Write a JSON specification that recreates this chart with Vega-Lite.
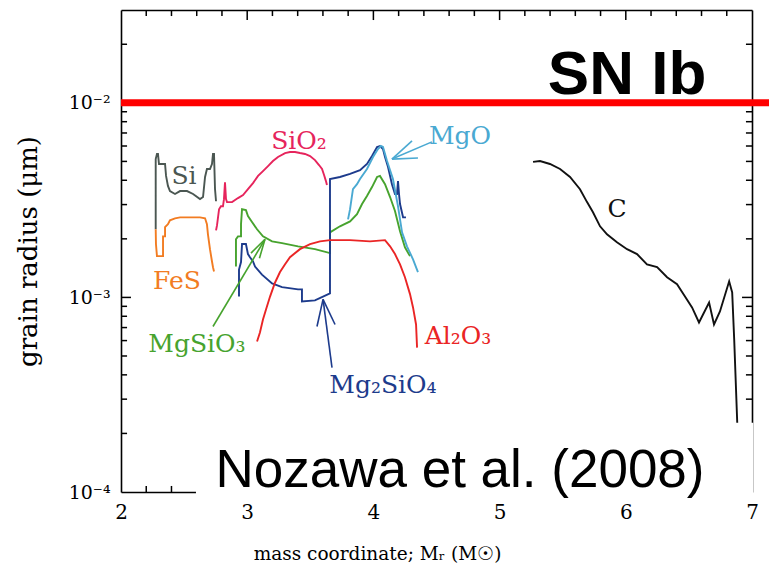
{
  "$schema": "https://vega.github.io/schema/vega-lite/v6.json",
  "autosize": "none",
  "width": 631,
  "height": 482,
  "padding": {"left": 121, "top": 10, "right": 17, "bottom": 85},
  "background": "white",
  "config": {
    "view": {"stroke": null},
    "axis": {
      "grid": false,
      "domainColor": "black",
      "domainWidth": 1.6,
      "labelFont": "DejaVu Serif",
      "labelFontSize": 20,
      "labelColor": "black",
      "titleFont": "DejaVu Serif",
      "titleColor": "black",
      "titleFontWeight": "normal"
    }
  },
  "datasets": {
    "curves": [
      {"s": "Si", "m": 2.275, "r": 2.24e-3, "o": 0},
      {"s": "Si", "m": 2.275, "r": 5.14e-3, "o": 1},
      {"s": "Si", "m": 2.285, "r": 5.46e-3, "o": 2},
      {"s": "Si", "m": 2.293, "r": 5.46e-3, "o": 3},
      {"s": "Si", "m": 2.301, "r": 4.85e-3, "o": 4},
      {"s": "Si", "m": 2.349, "r": 4.85e-3, "o": 5},
      {"s": "Si", "m": 2.357, "r": 4.21e-3, "o": 6},
      {"s": "Si", "m": 2.372, "r": 3.74e-3, "o": 7},
      {"s": "Si", "m": 2.388, "r": 3.52e-3, "o": 8},
      {"s": "Si", "m": 2.428, "r": 3.40e-3, "o": 9},
      {"s": "Si", "m": 2.468, "r": 3.52e-3, "o": 10},
      {"s": "Si", "m": 2.523, "r": 3.52e-3, "o": 11},
      {"s": "Si", "m": 2.571, "r": 3.40e-3, "o": 12},
      {"s": "Si", "m": 2.626, "r": 3.20e-3, "o": 13},
      {"s": "Si", "m": 2.650, "r": 3.28e-3, "o": 14},
      {"s": "Si", "m": 2.666, "r": 4.16e-3, "o": 15},
      {"s": "Si", "m": 2.681, "r": 4.57e-3, "o": 16},
      {"s": "Si", "m": 2.705, "r": 4.57e-3, "o": 17},
      {"s": "Si", "m": 2.721, "r": 4.85e-3, "o": 18},
      {"s": "Si", "m": 2.729, "r": 5.46e-3, "o": 19},
      {"s": "Si", "m": 2.737, "r": 5.46e-3, "o": 20},
      {"s": "Si", "m": 2.745, "r": 3.60e-3, "o": 21},
      {"s": "Si", "m": 2.753, "r": 3.12e-3, "o": 22},

      {"s": "FeS", "m": 2.275, "r": 2.24e-3, "o": 0},
      {"s": "FeS", "m": 2.277, "r": 1.88e-3, "o": 1},
      {"s": "FeS", "m": 2.285, "r": 1.63e-3, "o": 2},
      {"s": "FeS", "m": 2.333, "r": 1.63e-3, "o": 3},
      {"s": "FeS", "m": 2.333, "r": 2.06e-3, "o": 4},
      {"s": "FeS", "m": 2.349, "r": 2.06e-3, "o": 5},
      {"s": "FeS", "m": 2.349, "r": 2.30e-3, "o": 6},
      {"s": "FeS", "m": 2.372, "r": 2.38e-3, "o": 7},
      {"s": "FeS", "m": 2.388, "r": 2.49e-3, "o": 8},
      {"s": "FeS", "m": 2.428, "r": 2.55e-3, "o": 9},
      {"s": "FeS", "m": 2.468, "r": 2.58e-3, "o": 10},
      {"s": "FeS", "m": 2.547, "r": 2.58e-3, "o": 11},
      {"s": "FeS", "m": 2.626, "r": 2.58e-3, "o": 12},
      {"s": "FeS", "m": 2.666, "r": 2.55e-3, "o": 13},
      {"s": "FeS", "m": 2.681, "r": 2.38e-3, "o": 14},
      {"s": "FeS", "m": 2.689, "r": 2.11e-3, "o": 15},
      {"s": "FeS", "m": 2.705, "r": 1.77e-3, "o": 16},
      {"s": "FeS", "m": 2.721, "r": 1.53e-3, "o": 17},
      {"s": "FeS", "m": 2.729, "r": 1.43e-3, "o": 18},
      {"s": "FeS", "m": 2.737, "r": 1.36e-3, "o": 19},

      {"s": "SiO2", "m": 2.753, "r": 2.21e-3, "o": 0},
      {"s": "SiO2", "m": 2.761, "r": 2.35e-3, "o": 1},
      {"s": "SiO2", "m": 2.777, "r": 2.84e-3, "o": 2},
      {"s": "SiO2", "m": 2.792, "r": 2.94e-3, "o": 3},
      {"s": "SiO2", "m": 2.808, "r": 2.94e-3, "o": 4},
      {"s": "SiO2", "m": 2.816, "r": 3.20e-3, "o": 5},
      {"s": "SiO2", "m": 2.824, "r": 3.91e-3, "o": 6},
      {"s": "SiO2", "m": 2.832, "r": 3.20e-3, "o": 7},
      {"s": "SiO2", "m": 2.840, "r": 3.09e-3, "o": 8},
      {"s": "SiO2", "m": 2.880, "r": 3.09e-3, "o": 9},
      {"s": "SiO2", "m": 2.927, "r": 3.24e-3, "o": 10},
      {"s": "SiO2", "m": 2.967, "r": 3.36e-3, "o": 11},
      {"s": "SiO2", "m": 3.006, "r": 3.60e-3, "o": 12},
      {"s": "SiO2", "m": 3.046, "r": 3.87e-3, "o": 13},
      {"s": "SiO2", "m": 3.086, "r": 4.21e-3, "o": 14},
      {"s": "SiO2", "m": 3.125, "r": 4.46e-3, "o": 15},
      {"s": "SiO2", "m": 3.165, "r": 4.73e-3, "o": 16},
      {"s": "SiO2", "m": 3.204, "r": 5.02e-3, "o": 17},
      {"s": "SiO2", "m": 3.244, "r": 5.27e-3, "o": 18},
      {"s": "SiO2", "m": 3.300, "r": 5.52e-3, "o": 19},
      {"s": "SiO2", "m": 3.339, "r": 5.59e-3, "o": 20},
      {"s": "SiO2", "m": 3.379, "r": 5.59e-3, "o": 21},
      {"s": "SiO2", "m": 3.418, "r": 5.52e-3, "o": 22},
      {"s": "SiO2", "m": 3.458, "r": 5.46e-3, "o": 23},
      {"s": "SiO2", "m": 3.498, "r": 5.33e-3, "o": 24},
      {"s": "SiO2", "m": 3.537, "r": 5.08e-3, "o": 25},
      {"s": "SiO2", "m": 3.569, "r": 4.79e-3, "o": 26},
      {"s": "SiO2", "m": 3.593, "r": 4.57e-3, "o": 27},
      {"s": "SiO2", "m": 3.609, "r": 4.26e-3, "o": 28},
      {"s": "SiO2", "m": 3.624, "r": 3.96e-3, "o": 29},
      {"s": "SiO2", "m": 3.632, "r": 3.78e-3, "o": 30},

      {"s": "MgSiO3", "m": 2.911, "r": 1.44e-3, "o": 0},
      {"s": "MgSiO3", "m": 2.911, "r": 1.99e-3, "o": 1},
      {"s": "MgSiO3", "m": 2.927, "r": 2.06e-3, "o": 2},
      {"s": "MgSiO3", "m": 2.951, "r": 2.06e-3, "o": 3},
      {"s": "MgSiO3", "m": 2.951, "r": 2.38e-3, "o": 4},
      {"s": "MgSiO3", "m": 2.959, "r": 2.84e-3, "o": 5},
      {"s": "MgSiO3", "m": 2.990, "r": 2.81e-3, "o": 6},
      {"s": "MgSiO3", "m": 3.006, "r": 2.62e-3, "o": 7},
      {"s": "MgSiO3", "m": 3.038, "r": 2.44e-3, "o": 8},
      {"s": "MgSiO3", "m": 3.078, "r": 2.24e-3, "o": 9},
      {"s": "MgSiO3", "m": 3.125, "r": 2.06e-3, "o": 10},
      {"s": "MgSiO3", "m": 3.197, "r": 1.94e-3, "o": 11},
      {"s": "MgSiO3", "m": 3.276, "r": 1.90e-3, "o": 12},
      {"s": "MgSiO3", "m": 3.403, "r": 1.83e-3, "o": 13},
      {"s": "MgSiO3", "m": 3.537, "r": 1.77e-3, "o": 14},
      {"s": "MgSiO3", "m": 3.656, "r": 1.69e-3, "o": 15},
      {"s": "MgSiO3", "m": 3.656, "r": 2.16e-3, "o": 16},
      {"s": "MgSiO3", "m": 3.735, "r": 2.32e-3, "o": 17},
      {"s": "MgSiO3", "m": 3.815, "r": 2.46e-3, "o": 18},
      {"s": "MgSiO3", "m": 3.870, "r": 2.68e-3, "o": 19},
      {"s": "MgSiO3", "m": 3.910, "r": 3.02e-3, "o": 20},
      {"s": "MgSiO3", "m": 3.949, "r": 3.32e-3, "o": 21},
      {"s": "MgSiO3", "m": 3.989, "r": 3.69e-3, "o": 22},
      {"s": "MgSiO3", "m": 4.029, "r": 4.16e-3, "o": 23},
      {"s": "MgSiO3", "m": 4.052, "r": 4.21e-3, "o": 24},
      {"s": "MgSiO3", "m": 4.092, "r": 3.82e-3, "o": 25},
      {"s": "MgSiO3", "m": 4.132, "r": 3.28e-3, "o": 26},
      {"s": "MgSiO3", "m": 4.171, "r": 2.78e-3, "o": 27},
      {"s": "MgSiO3", "m": 4.211, "r": 2.19e-3, "o": 28},
      {"s": "MgSiO3", "m": 4.250, "r": 1.81e-3, "o": 29},
      {"s": "MgSiO3", "m": 4.290, "r": 1.63e-3, "o": 30},

      {"s": "Mg2SiO4", "m": 2.935, "r": 1.01e-3, "o": 0},
      {"s": "Mg2SiO4", "m": 2.935, "r": 1.39e-3, "o": 1},
      {"s": "Mg2SiO4", "m": 2.951, "r": 1.52e-3, "o": 2},
      {"s": "Mg2SiO4", "m": 2.959, "r": 1.88e-3, "o": 3},
      {"s": "Mg2SiO4", "m": 2.990, "r": 1.88e-3, "o": 4},
      {"s": "Mg2SiO4", "m": 3.006, "r": 1.67e-3, "o": 5},
      {"s": "Mg2SiO4", "m": 3.022, "r": 1.61e-3, "o": 6},
      {"s": "Mg2SiO4", "m": 3.046, "r": 1.53e-3, "o": 7},
      {"s": "Mg2SiO4", "m": 3.062, "r": 1.44e-3, "o": 8},
      {"s": "Mg2SiO4", "m": 3.117, "r": 1.31e-3, "o": 9},
      {"s": "Mg2SiO4", "m": 3.197, "r": 1.18e-3, "o": 10},
      {"s": "Mg2SiO4", "m": 3.276, "r": 1.13e-3, "o": 11},
      {"s": "Mg2SiO4", "m": 3.403, "r": 1.10e-3, "o": 12},
      {"s": "Mg2SiO4", "m": 3.434, "r": 1.10e-3, "o": 13},
      {"s": "Mg2SiO4", "m": 3.434, "r": 9.54e-4, "o": 14},
      {"s": "Mg2SiO4", "m": 3.537, "r": 9.65e-4, "o": 15},
      {"s": "Mg2SiO4", "m": 3.656, "r": 1.05e-3, "o": 16},
      {"s": "Mg2SiO4", "m": 3.656, "r": 4.06e-3, "o": 17},
      {"s": "Mg2SiO4", "m": 3.735, "r": 4.16e-3, "o": 18},
      {"s": "Mg2SiO4", "m": 3.815, "r": 4.31e-3, "o": 19},
      {"s": "Mg2SiO4", "m": 3.894, "r": 4.51e-3, "o": 20},
      {"s": "Mg2SiO4", "m": 3.949, "r": 4.85e-3, "o": 21},
      {"s": "Mg2SiO4", "m": 3.989, "r": 5.33e-3, "o": 22},
      {"s": "Mg2SiO4", "m": 4.029, "r": 5.93e-3, "o": 23},
      {"s": "Mg2SiO4", "m": 4.052, "r": 6.00e-3, "o": 24},
      {"s": "Mg2SiO4", "m": 4.076, "r": 5.79e-3, "o": 25},
      {"s": "Mg2SiO4", "m": 4.092, "r": 5.27e-3, "o": 26},
      {"s": "Mg2SiO4", "m": 4.116, "r": 4.68e-3, "o": 27},
      {"s": "Mg2SiO4", "m": 4.147, "r": 3.82e-3, "o": 28},
      {"s": "Mg2SiO4", "m": 4.171, "r": 3.40e-3, "o": 29},
      {"s": "Mg2SiO4", "m": 4.187, "r": 3.40e-3, "o": 30},
      {"s": "Mg2SiO4", "m": 4.195, "r": 3.96e-3, "o": 31},
      {"s": "Mg2SiO4", "m": 4.203, "r": 3.40e-3, "o": 32},
      {"s": "Mg2SiO4", "m": 4.211, "r": 3.02e-3, "o": 33},
      {"s": "Mg2SiO4", "m": 4.235, "r": 2.58e-3, "o": 34},
      {"s": "Mg2SiO4", "m": 4.258, "r": 2.58e-3, "o": 35},

      {"s": "MgO", "m": 3.799, "r": 2.52e-3, "o": 0},
      {"s": "MgO", "m": 3.815, "r": 2.84e-3, "o": 1},
      {"s": "MgO", "m": 3.838, "r": 3.60e-3, "o": 2},
      {"s": "MgO", "m": 3.870, "r": 3.82e-3, "o": 3},
      {"s": "MgO", "m": 3.894, "r": 4.06e-3, "o": 4},
      {"s": "MgO", "m": 3.949, "r": 4.57e-3, "o": 5},
      {"s": "MgO", "m": 3.997, "r": 5.27e-3, "o": 6},
      {"s": "MgO", "m": 4.036, "r": 5.79e-3, "o": 7},
      {"s": "MgO", "m": 4.060, "r": 6.00e-3, "o": 8},
      {"s": "MgO", "m": 4.076, "r": 5.93e-3, "o": 9},
      {"s": "MgO", "m": 4.108, "r": 5.02e-3, "o": 10},
      {"s": "MgO", "m": 4.155, "r": 4.06e-3, "o": 11},
      {"s": "MgO", "m": 4.195, "r": 2.94e-3, "o": 12},
      {"s": "MgO", "m": 4.227, "r": 2.16e-3, "o": 13},
      {"s": "MgO", "m": 4.266, "r": 1.83e-3, "o": 14},
      {"s": "MgO", "m": 4.314, "r": 1.57e-3, "o": 15},
      {"s": "MgO", "m": 4.353, "r": 1.35e-3, "o": 16},

      {"s": "Al2O3", "m": 3.078, "r": 5.93e-4, "o": 0},
      {"s": "Al2O3", "m": 3.101, "r": 6.60e-4, "o": 1},
      {"s": "Al2O3", "m": 3.125, "r": 7.70e-4, "o": 2},
      {"s": "Al2O3", "m": 3.149, "r": 8.67e-4, "o": 3},
      {"s": "Al2O3", "m": 3.181, "r": 1.01e-3, "o": 4},
      {"s": "Al2O3", "m": 3.220, "r": 1.19e-3, "o": 5},
      {"s": "Al2O3", "m": 3.260, "r": 1.35e-3, "o": 6},
      {"s": "Al2O3", "m": 3.300, "r": 1.48e-3, "o": 7},
      {"s": "Al2O3", "m": 3.339, "r": 1.61e-3, "o": 8},
      {"s": "Al2O3", "m": 3.418, "r": 1.77e-3, "o": 9},
      {"s": "Al2O3", "m": 3.498, "r": 1.88e-3, "o": 10},
      {"s": "Al2O3", "m": 3.577, "r": 1.94e-3, "o": 11},
      {"s": "Al2O3", "m": 3.656, "r": 1.97e-3, "o": 12},
      {"s": "Al2O3", "m": 3.815, "r": 1.97e-3, "o": 13},
      {"s": "Al2O3", "m": 3.973, "r": 1.94e-3, "o": 14},
      {"s": "Al2O3", "m": 4.092, "r": 1.97e-3, "o": 15},
      {"s": "Al2O3", "m": 4.132, "r": 1.83e-3, "o": 16},
      {"s": "Al2O3", "m": 4.171, "r": 1.67e-3, "o": 17},
      {"s": "Al2O3", "m": 4.211, "r": 1.48e-3, "o": 18},
      {"s": "Al2O3", "m": 4.250, "r": 1.27e-3, "o": 19},
      {"s": "Al2O3", "m": 4.290, "r": 1.04e-3, "o": 20},
      {"s": "Al2O3", "m": 4.314, "r": 8.88e-4, "o": 21},
      {"s": "Al2O3", "m": 4.338, "r": 7.26e-4, "o": 22},
      {"s": "Al2O3", "m": 4.346, "r": 5.52e-4, "o": 23},

      {"s": "C", "m": 5.265, "r": 4.97e-3, "o": 0},
      {"s": "C", "m": 5.320, "r": 5.02e-3, "o": 1},
      {"s": "C", "m": 5.399, "r": 4.85e-3, "o": 2},
      {"s": "C", "m": 5.479, "r": 4.57e-3, "o": 3},
      {"s": "C", "m": 5.558, "r": 4.16e-3, "o": 4},
      {"s": "C", "m": 5.637, "r": 3.60e-3, "o": 5},
      {"s": "C", "m": 5.693, "r": 3.09e-3, "o": 6},
      {"s": "C", "m": 5.740, "r": 2.74e-3, "o": 7},
      {"s": "C", "m": 5.796, "r": 2.32e-3, "o": 8},
      {"s": "C", "m": 5.851, "r": 2.11e-3, "o": 9},
      {"s": "C", "m": 5.930, "r": 1.92e-3, "o": 10},
      {"s": "C", "m": 6.010, "r": 1.77e-3, "o": 11},
      {"s": "C", "m": 6.089, "r": 1.67e-3, "o": 12},
      {"s": "C", "m": 6.168, "r": 1.48e-3, "o": 13},
      {"s": "C", "m": 6.248, "r": 1.43e-3, "o": 14},
      {"s": "C", "m": 6.327, "r": 1.27e-3, "o": 15},
      {"s": "C", "m": 6.406, "r": 1.17e-3, "o": 16},
      {"s": "C", "m": 6.469, "r": 1.01e-3, "o": 17},
      {"s": "C", "m": 6.525, "r": 8.88e-4, "o": 18},
      {"s": "C", "m": 6.580, "r": 7.43e-4, "o": 19},
      {"s": "C", "m": 6.612, "r": 8.17e-4, "o": 20},
      {"s": "C", "m": 6.660, "r": 9.42e-4, "o": 21},
      {"s": "C", "m": 6.699, "r": 7.26e-4, "o": 22},
      {"s": "C", "m": 6.746, "r": 8.47e-4, "o": 23},
      {"s": "C", "m": 6.819, "r": 1.21e-3, "o": 24},
      {"s": "C", "m": 6.843, "r": 1.06e-3, "o": 25},
      {"s": "C", "m": 6.859, "r": 6.07e-4, "o": 26},
      {"s": "C", "m": 6.883, "r": 2.27e-4, "o": 27},
      {"s": "C", "m": 6.891, "r": 1.46e-4, "o": 28}
    ],
    "labels": [
      {"s": "Si", "label": "Si", "m": 2.499, "r": 3.82e-3},
      {"s": "FeS", "label": "FeS", "m": 2.444, "r": 1.11e-3},
      {"s": "SiO2", "label": "SiO₂", "m": 3.410, "r": 5.79e-3},
      {"s": "MgO", "label": "MgO", "m": 4.686, "r": 6.15e-3},
      {"s": "MgSiO3", "label": "MgSiO₃", "m": 2.602, "r": 5.27e-4},
      {"s": "Mg2SiO4", "label": "Mg₂SiO₄", "m": 4.076, "r": 3.24e-4},
      {"s": "Al2O3", "label": "Al₂O₃", "m": 4.67, "r": 5.73e-4},
      {"s": "C", "label": "C", "m": 5.930, "r": 2.58e-3}
    ],
    "arrows": [
      {"s": "MgO", "m0": 4.464, "r0": 6.30e-3, "m1": 4.147, "r1": 5.14e-3},
      {"s": "MgO", "m0": 4.306, "r0": 6.37e-3, "m1": 4.147, "r1": 5.14e-3},
      {"s": "MgO", "m0": 4.353, "r0": 5.21e-3, "m1": 4.147, "r1": 5.14e-3},
      {"s": "MgSiO3", "m0": 2.729, "r0": 7.09e-4, "m1": 3.141, "r1": 1.99e-3},
      {"s": "MgSiO3", "m0": 3.030, "r0": 1.69e-3, "m1": 3.141, "r1": 1.99e-3},
      {"s": "MgSiO3", "m0": 3.097, "r0": 1.59e-3, "m1": 3.141, "r1": 1.99e-3},
      {"s": "Mg2SiO4", "m0": 3.672, "r0": 4.36e-4, "m1": 3.601, "r1": 9.77e-4},
      {"s": "Mg2SiO4", "m0": 3.553, "r0": 7.09e-4, "m1": 3.601, "r1": 9.77e-4},
      {"s": "Mg2SiO4", "m0": 3.696, "r0": 7.26e-4, "m1": 3.601, "r1": 9.77e-4}
    ],
    "xticks": [
      {"v": 3, "k": "major"}, {"v": 4, "k": "major"}, {"v": 5, "k": "major"}, {"v": 6, "k": "major"},
      {"v": 2.2, "k": "minor"}, {"v": 2.4, "k": "minor"}, {"v": 2.6, "k": "minor"}, {"v": 2.8, "k": "minor"},
      {"v": 3.2, "k": "minor"}, {"v": 3.4, "k": "minor"}, {"v": 3.6, "k": "minor"}, {"v": 3.8, "k": "minor"},
      {"v": 4.2, "k": "minor"}, {"v": 4.4, "k": "minor"}, {"v": 4.6, "k": "minor"}, {"v": 4.8, "k": "minor"},
      {"v": 5.2, "k": "minor"}, {"v": 5.4, "k": "minor"}, {"v": 5.6, "k": "minor"}, {"v": 5.8, "k": "minor"},
      {"v": 6.2, "k": "minor"}, {"v": 6.4, "k": "minor"}, {"v": 6.6, "k": "minor"}, {"v": 6.8, "k": "minor"}
    ],
    "yticks": [
      {"v": 0.001, "k": "major"}, {"v": 0.01, "k": "major"},
      {"v": 0.0002, "k": "minor"}, {"v": 0.0003, "k": "minor"}, {"v": 0.0004, "k": "minor"}, {"v": 0.0005, "k": "minor"},
      {"v": 0.0006, "k": "minor"}, {"v": 0.0007, "k": "minor"}, {"v": 0.0008, "k": "minor"}, {"v": 0.0009, "k": "minor"},
      {"v": 0.002, "k": "minor"}, {"v": 0.003, "k": "minor"}, {"v": 0.004, "k": "minor"}, {"v": 0.005, "k": "minor"},
      {"v": 0.006, "k": "minor"}, {"v": 0.007, "k": "minor"}, {"v": 0.008, "k": "minor"}, {"v": 0.009, "k": "minor"},
      {"v": 0.02, "k": "minor"}
    ]
  },
  "resolve": {"axis": {"x": "independent", "y": "independent"}},
  "layer": [
    {
      "data": {"name": "curves"},
      "mark": {"type": "line", "strokeWidth": 1.9, "strokeJoin": "miter"},
      "encoding": {
        "x": {
          "field": "m", "type": "quantitative",
          "scale": {"domain": [2, 7], "nice": false, "zero": false},
          "axis": {
            "orient": "bottom", "values": [2, 3, 4, 5, 6, 7], "format": "d",
            "ticks": false, "labelPadding": 10, "labelFlush": false, "labelOverlap": false,
            "title": "mass coordinate; Mᵣ (M☉)", "titleFontSize": 18.5,
            "titleX": 256, "titleY": 61, "titleAlign": "center", "titleBaseline": "middle"
          }
        },
        "y": {
          "field": "r", "type": "quantitative",
          "scale": {"type": "log", "domain": [0.0001, 0.03], "nice": false},
          "axis": {
            "orient": "left", "values": [0.0001, 0.001, 0.01],
            "labelExpr": "datum.value < 0.0005 ? '10⁻⁴' : datum.value < 0.005 ? '10⁻³' : '10⁻²'",
            "ticks": false, "labelPadding": 11, "labelFlush": false, "labelOverlap": false, "labelFontSize": 19,
            "title": "grain radius (μm)", "titleFontSize": 26, "titleAngle": -90,
            "titleX": -93, "titleY": 241, "titleAlign": "center", "titleBaseline": "middle"
          }
        },
        "color": {
          "field": "s", "type": "nominal", "legend": null,
          "scale": {
            "domain": ["Si", "FeS", "SiO2", "MgSiO3", "Mg2SiO4", "MgO", "Al2O3", "C"],
            "range": ["#4b5752", "#f27c22", "#e6245c", "#47a32e", "#1d3b8c", "#4aa9d2", "#ea2525", "#111111"]
          }
        },
        "detail": {"field": "s"},
        "order": {"field": "o", "type": "quantitative"}
      }
    },
    {
      "data": {"name": "xticks"},
      "transform": [{"filter": "datum.k === 'major'"}],
      "mark": {"type": "rule", "color": "black", "strokeWidth": 1.5},
      "encoding": {
        "x": {"field": "v", "type": "quantitative", "axis": null},
        "y": {"datum": 0.0001, "type": "quantitative", "axis": null},
        "y2": {"datum": 0.0001126}
      }
    },
    {
      "data": {"name": "xticks"},
      "transform": [{"filter": "datum.k === 'minor'"}],
      "mark": {"type": "rule", "color": "black", "strokeWidth": 1.5},
      "encoding": {
        "x": {"field": "v", "type": "quantitative", "axis": null},
        "y": {"datum": 0.0001, "type": "quantitative", "axis": null},
        "y2": {"datum": 0.0001074}
      }
    },
    {
      "data": {"name": "xticks"},
      "transform": [{"filter": "datum.k === 'major'"}],
      "mark": {"type": "rule", "color": "black", "strokeWidth": 1.5},
      "encoding": {
        "x": {"field": "v", "type": "quantitative", "axis": null},
        "y": {"datum": 0.03, "type": "quantitative", "axis": null},
        "y2": {"datum": 0.02664}
      }
    },
    {
      "data": {"name": "xticks"},
      "transform": [{"filter": "datum.k === 'minor'"}],
      "mark": {"type": "rule", "color": "black", "strokeWidth": 1.5},
      "encoding": {
        "x": {"field": "v", "type": "quantitative", "axis": null},
        "y": {"datum": 0.03, "type": "quantitative", "axis": null},
        "y2": {"datum": 0.02793}
      }
    },
    {
      "data": {"name": "yticks"},
      "transform": [{"filter": "datum.k === 'major'"}],
      "mark": {"type": "rule", "color": "black", "strokeWidth": 1.5},
      "encoding": {
        "y": {"field": "v", "type": "quantitative", "axis": null},
        "x": {"datum": 2, "type": "quantitative", "axis": null},
        "x2": {"datum": 2.079}
      }
    },
    {
      "data": {"name": "yticks"},
      "transform": [{"filter": "datum.k === 'minor'"}],
      "mark": {"type": "rule", "color": "black", "strokeWidth": 1.5},
      "encoding": {
        "y": {"field": "v", "type": "quantitative", "axis": null},
        "x": {"datum": 2, "type": "quantitative", "axis": null},
        "x2": {"datum": 2.048}
      }
    },
    {
      "data": {"name": "yticks"},
      "transform": [{"filter": "datum.k === 'major'"}],
      "mark": {"type": "rule", "color": "black", "strokeWidth": 1.5},
      "encoding": {
        "y": {"field": "v", "type": "quantitative", "axis": null},
        "x": {"datum": 7, "type": "quantitative", "axis": null},
        "x2": {"datum": 6.921}
      }
    },
    {
      "data": {"name": "yticks"},
      "transform": [{"filter": "datum.k === 'minor'"}],
      "mark": {"type": "rule", "color": "black", "strokeWidth": 1.5},
      "encoding": {
        "y": {"field": "v", "type": "quantitative", "axis": null},
        "x": {"datum": 7, "type": "quantitative", "axis": null},
        "x2": {"datum": 6.952}
      }
    },
    {
      "data": {"name": "labels"},
      "mark": {"type": "text", "font": "DejaVu Serif", "fontSize": 25, "align": "center", "baseline": "alphabetic"},
      "encoding": {
        "x": {"field": "m", "type": "quantitative", "axis": null},
        "y": {"field": "r", "type": "quantitative", "axis": null},
        "text": {"field": "label"},
        "color": {"field": "s", "type": "nominal", "legend": null}
      }
    },
    {
      "data": {"name": "arrows"},
      "mark": {"type": "rule", "strokeWidth": 1.6},
      "encoding": {
        "x": {"field": "m0", "type": "quantitative", "axis": null},
        "x2": {"field": "m1"},
        "y": {"field": "r0", "type": "quantitative", "axis": null},
        "y2": {"field": "r1"},
        "color": {"field": "s", "type": "nominal", "legend": null}
      }
    },
    {
      "data": {"values": [{"m0": 2, "m1": 7.2, "r": 0.01}]},
      "mark": {"type": "rule", "color": "#ff0000", "strokeWidth": 7},
      "encoding": {
        "x": {"field": "m0", "type": "quantitative", "axis": null},
        "x2": {"field": "m1"},
        "y": {"field": "r", "type": "quantitative", "axis": null}
      }
    },
    {
      "data": {"values": [{"m0": 2.594, "m1": 7.01, "r0": 8.8e-5, "r1": 2.27e-4}]},
      "mark": {"type": "rect", "color": "white"},
      "encoding": {
        "x": {"field": "m0", "type": "quantitative", "axis": null},
        "x2": {"field": "m1"},
        "y": {"field": "r0", "type": "quantitative", "axis": null},
        "y2": {"field": "r1"}
      }
    },
    {
      "data": {"values": [{"note": "Nozawa et al. (2008)", "m": 4.686, "r": 1.06e-4}]},
      "mark": {"type": "text", "font": "Liberation Sans", "fontSize": 53, "align": "center", "baseline": "alphabetic", "color": "black"},
      "encoding": {
        "x": {"field": "m", "type": "quantitative", "axis": {"orient": "top", "domain": true, "ticks": false, "labels": false, "title": null}},
        "y": {"field": "r", "type": "quantitative", "axis": {"orient": "right", "domain": true, "ticks": false, "labels": false, "title": null}},
        "text": {"field": "note"}
      }
    },
    {
      "data": {"values": [{"note": "SN Ib", "m": 6.01, "r": 0.01113}]},
      "mark": {"type": "text", "font": "Liberation Sans", "fontSize": 62, "fontWeight": "bold", "align": "center", "baseline": "alphabetic", "color": "black"},
      "encoding": {
        "x": {"field": "m", "type": "quantitative", "axis": null},
        "y": {"field": "r", "type": "quantitative", "axis": null},
        "text": {"field": "note"}
      }
    }
  ]
}
